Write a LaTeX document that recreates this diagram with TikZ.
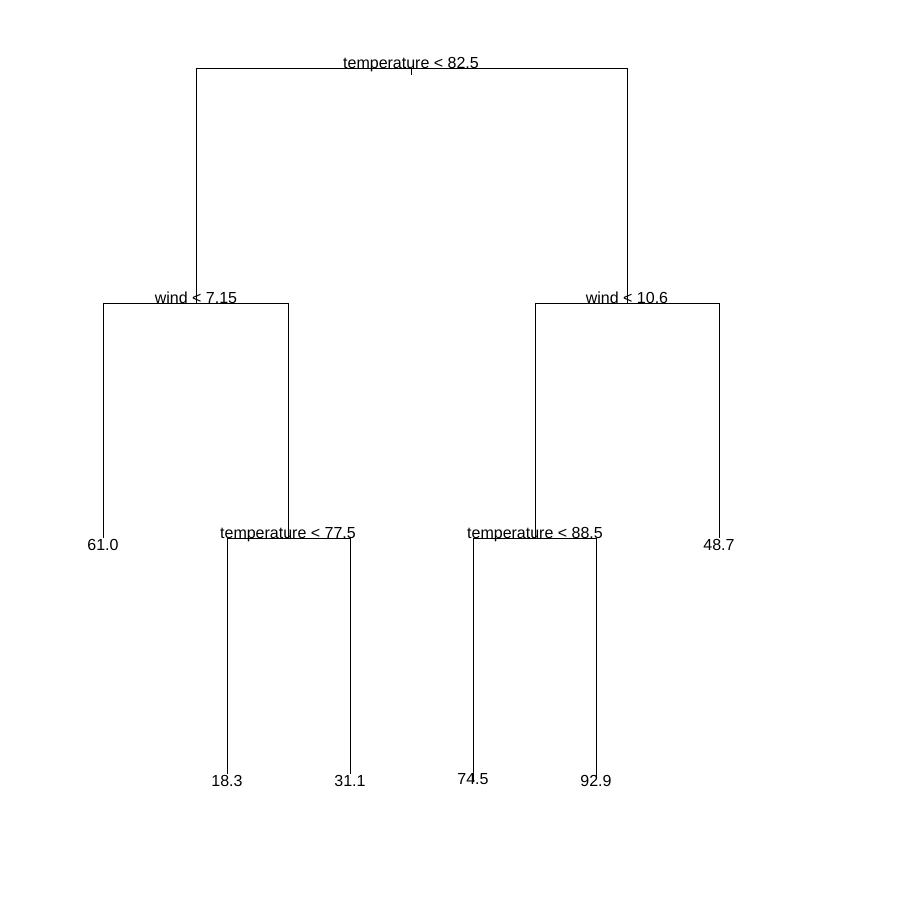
\documentclass[tikz,border=0pt]{standalone}
\usepackage{fontspec}
\setmainfont{Liberation Sans}
\begin{document}
\begin{tikzpicture}[x=1pt, y=-1pt, line width=0.9pt,
  split/.style={anchor=base, inner sep=0pt, font=\fontsize{16}{19}\selectfont},
  leaf/.style={anchor=base, inner sep=0pt, font=\fontsize{16}{19}\selectfont}]
\useasboundingbox (0,0) rectangle (900,900);

% split points
\coordinate (t1) at (411,68);
\coordinate (w1) at (196,303);
\coordinate (w2) at (627,303);
\coordinate (t2) at (288,538);
\coordinate (t3) at (535,538);
\coordinate (stub) at (411,75);
% leaves
\coordinate (l1) at (103,538);
\coordinate (l2) at (227,774);
\coordinate (l3) at (350,774);
\coordinate (l4) at (473,782);
\coordinate (l5) at (596,778);
\coordinate (l6) at (719,538);

\draw (t1) -- (stub);
\foreach \p/\c in {t1/w1, t1/w2, w1/l1, w1/t2, w2/t3, w2/l6,
                   t2/l2, t2/l3, t3/l4, t3/l5}
  \draw (\p) -| (\c);

\node[split] (n1) at (t1) {temperature < 82.5};
\node[split] (n2) at (w1) {wind < 7.15};
\node[split] (n3) at (w2) {wind < 10.6};
\node[split] (n4) at (t2) {temperature < 77.5};
\node[split] (n5) at (t3) {temperature < 88.5};

\node[leaf] (v1) at (103,550) {61.0};
\node[leaf] (v2) at (227,786) {18.3};
\node[leaf] (v3) at (350,786) {31.1};
\node[leaf] (v4) at (473,784) {74.5};
\node[leaf] (v5) at (596,786) {92.9};
\node[leaf] (v6) at (719,550) {48.7};
\end{tikzpicture}
\end{document}
